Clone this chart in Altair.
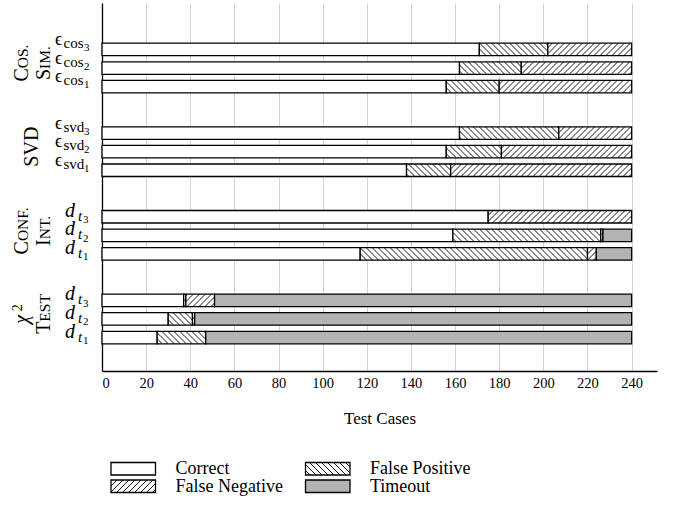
import altair as alt
import pandas as pd
import math

# ---------------- data (bottom bar first) ----------------
bar_main = ["d", "d", "d", "d", "d", "d", "ϵ", "ϵ", "ϵ", "ϵ", "ϵ", "ϵ"]
bar_sub = ["t", "t", "t", "t", "t", "t", "svd", "svd", "svd", "cos", "cos", "cos"]
bar_subsub = ["1", "2", "3", "1", "2", "3", "1", "2", "3", "1", "2", "3"]
bar_group = [0, 0, 0, 1, 1, 1, 2, 2, 2, 3, 3, 3]

correct = [25, 30, 37, 117, 159, 175, 138, 156, 162, 156, 162, 171]
false_pos = [22, 11, 1, 103, 67, 0, 20, 25, 45, 24, 28, 31]
false_neg = [0, 1, 13, 4, 1, 65, 82, 59, 33, 60, 50, 38]
timeout = [193, 198, 189, 16, 13, 0, 0, 0, 0, 0, 0, 0]

categories = ["Correct", "False Positive", "False Negative", "Timeout"]
cat_fill = ["#ffffff", "#ffffff", "#ffffff", "#b3b3b3"]
cat_hatch = [None, "nw", "ne", None]

x_ticks = list(range(0, 241, 20))

# group labels: list of (text piece, font size, line index, italic)
group_pieces = [
    [("χ", 20, 0, True), ("2", 14, 0, False), ("T", 20, 1, False), ("EST", 15.5, 1, False)],
    [("C", 20, 0, False), ("ONF.", 15.5, 0, False), ("I", 20, 1, False), ("NT.", 15.5, 1, False)],
    [("SVD", 20, 0, False)],
    [("C", 20, 0, False), ("OS.", 15.5, 0, False), ("S", 20, 1, False), ("IM.", 15.5, 1, False)],
]

# ---------------- layout ----------------
FONT = "Liberation Serif"
W, H = 555, 368
XMAX = 251.5
YMIN, YMAX = -1.8, 18.0
sx = W / XMAX
sy = H / (YMAX - YMIN)
BAR_PX = 12.5
half = BAR_PX / 2 / sy
HATCH_SP = 6.0

TIMES_W = {"C": .667, "O": .722, "S": .556, ".": .25, "I": .333, "M": .889,
           "N": .722, "F": .556, "T": .611, "E": .611, "V": .722, "D": .722,
           "χ": .62, "2": .5}


def text_w(s, size):
    return sum(TIMES_W.get(c, .5) for c in s) * size


ypos = [g * 4.5 + (i % 3) for i, g in enumerate(bar_group)]


def hatch(u0, u1, v0, v1, kind, sp):
    out = []
    if kind == "nw":  # u + v = c
        k0 = math.floor((u0 + v0) / sp)
        k1 = math.ceil((u1 + v1) / sp)
        for k in range(k0, k1 + 1):
            c = k * sp
            a = max(u0, c - v1)
            b = min(u1, c - v0)
            if b - a > 0.3:
                out.append((a, c - a, b, c - b))
    else:  # u - v = c
        k0 = math.floor((u0 - v1) / sp)
        k1 = math.ceil((u1 - v0) / sp)
        for k in range(k0, k1 + 1):
            c = k * sp
            a = max(u0, c + v0)
            b = min(u1, c + v1)
            if b - a > 0.3:
                out.append((a, a - c, b, b - c))
    return out


seg_rows, hatch_rows = [], []
for i in range(len(correct)):
    vals = [correct[i], false_pos[i], false_neg[i], timeout[i]]
    start = 0
    for ci, v in enumerate(vals):
        if v <= 0:
            continue
        x0, x1 = start, start + v
        yb, yt = ypos[i] - half, ypos[i] + half
        seg_rows.append(dict(cat=categories[ci], x0=x0, x1=x1, yb=yb, yt=yt))
        if cat_hatch[ci]:
            for (ua, va, ub, vb) in hatch(x0 * sx, x1 * sx, yb * sy, yt * sy, cat_hatch[ci], HATCH_SP):
                hatch_rows.append(dict(x=ua / sx, y=va / sy, x2=ub / sx, y2=vb / sy))
        start = x1

segs = pd.DataFrame(seg_rows)
hatches = pd.DataFrame(hatch_rows)

# tick labels beside bars (baseline offsets in px, downward positive)
lab_rows = []
for i in range(len(correct)):
    is_eps = bar_main[i] == "ϵ"
    if is_eps:
        parts = [(bar_main[i], -47, -4.5, 18, False),
                 (bar_sub[i], -38.5, -1.5, 15, False),
                 (bar_subsub[i], -18, 1.8, 11, False)]
    else:
        parts = [(bar_main[i], -37, 0, 20, True),
                 (bar_sub[i], -24, 4, 15, True),
                 (bar_subsub[i], -19, 6.5, 11, False)]
    for (t, px, dy, size, it) in parts:
        lab_rows.append(dict(t=t, px=px, y=ypos[i] - dy / sy, size=size, it=it))
labs = pd.DataFrame(lab_rows)

# rotated group labels
line_x = {2: [-74, -52], 1: [-64]}
grow = []
for g, pieces in enumerate(group_pieces):
    center = g * 4.5 + 1
    nlines = max(p[2] for p in pieces) + 1
    for ln in range(nlines):
        lp = [p for p in pieces if p[2] == ln]
        total = sum(text_w(p[0], p[1]) for p in lp)
        off = -total / 2 + 5
        for (t, size, _, it) in lp:
            grow.append(dict(t=t, px=line_x[nlines][ln], y=center + off / sy, size=size, it=it))
            off += text_w(t, size)
glabs = pd.DataFrame(grow)
# χ superscript sits a little further out
glabs.loc[(glabs.t == "2"), "px"] = -80

# legend (pixel positions relative to plot origin)
leg_rows, leg_hatch = [], []
for k, cat in enumerate(categories):
    col, row = [(0, 0), (1, 0), (0, 1), (1, 1)][k]
    bx0 = 9 + col * 194.5
    by0 = 459.5 + row * 17.5
    leg_rows.append(dict(cat=cat, x0=bx0, x1=bx0 + 44.5, y0=by0, y1=by0 + 12.5,
                         tx=bx0 + 64.5, ty=by0 + 6.5, fill=cat_fill[k]))
    if cat_hatch[k]:
        for (ua, va, ub, vb) in hatch(bx0, bx0 + 44.5, -(by0 + 12.5), -by0, cat_hatch[k], HATCH_SP):
            leg_hatch.append(dict(x=ua, y=-va, x2=ub, y2=-vb))
legend = pd.DataFrame(leg_rows)
leg_h = pd.DataFrame(leg_hatch)

# ---------------- chart ----------------
xscale = alt.Scale(domain=[0, XMAX], nice=False, zero=False)
yscale = alt.Scale(domain=[YMIN, YMAX], nice=False, zero=False)
x_axis = alt.Axis(values=x_ticks, grid=True, ticks=False, title="Test Cases",
                  labelFont=FONT, titleFont=FONT, labelFontSize=14.5, titleFontSize=17)
y_axis = alt.Axis(labels=False, ticks=False, grid=False, title=None)

bars = alt.Chart(segs).mark_rect(stroke="black", strokeWidth=1.3).encode(
    x=alt.X("x0:Q", scale=xscale, axis=x_axis),
    x2="x1:Q",
    y=alt.Y("yb:Q", scale=yscale, axis=y_axis),
    y2="yt:Q",
    fill=alt.Fill("cat:N", scale=alt.Scale(domain=categories, range=cat_fill), legend=None),
)

hatch_layer = alt.Chart(hatches).mark_rule(color="black", strokeWidth=0.9).encode(
    x=alt.X("x:Q", scale=xscale, axis=x_axis), x2="x2:Q",
    y=alt.Y("y:Q", scale=yscale, axis=y_axis), y2="y2:Q",
)


def label_layer(df, italic, angle=0):
    kw = dict(font=FONT, align="left", baseline="alphabetic", color="black")
    if italic:
        kw["fontStyle"] = "italic"
    if angle:
        kw["angle"] = angle
    return alt.Chart(df).mark_text(**kw).encode(
        x=alt.X("px:Q", scale=None),
        y=alt.Y("y:Q", scale=yscale, axis=y_axis),
        text="t:N",
        size=alt.Size("size:Q", scale=None),
    )


lab_up = label_layer(labs[~labs.it], False)
lab_it = label_layer(labs[labs.it], True)
g_up = label_layer(glabs[~glabs.it], False, 270)
g_it = label_layer(glabs[glabs.it], True, 270)

leg_box = alt.Chart(legend).mark_rect(stroke="black", strokeWidth=1.3).encode(
    x=alt.X("x0:Q", scale=None), x2="x1:Q",
    y=alt.Y("y0:Q", scale=None), y2="y1:Q",
    fill=alt.Fill("fill:N", scale=None),
)
leg_hl = alt.Chart(leg_h).mark_rule(color="black", strokeWidth=0.9).encode(
    x=alt.X("x:Q", scale=None), x2="x2:Q",
    y=alt.Y("y:Q", scale=None), y2="y2:Q",
)
leg_txt = alt.Chart(legend).mark_text(font=FONT, fontSize=18, align="left",
                                      baseline="middle", color="black").encode(
    x=alt.X("tx:Q", scale=None),
    y=alt.Y("ty:Q", scale=None),
    text="cat:N",
)

chart = alt.layer(bars, hatch_layer, lab_up, lab_it, g_up, g_it, leg_box, leg_hl, leg_txt).properties(
    width=W, height=H,
    autosize=alt.AutoSizeParams(type="none"),
    padding={"left": 102, "top": 3, "right": 19, "bottom": 141},
    background="white",
).configure(font=FONT).configure_view(stroke=None).configure_axis(
    gridColor="#d4d4d4", gridWidth=1,
    domainColor="black", domainWidth=1.3,
    labelFont=FONT, labelFontSize=14.5, labelColor="black", labelPadding=5,
    titleFont=FONT, titleFontSize=17, titleFontWeight="normal", titleColor="black",
    titlePadding=21,
)

chart.save("out.html", embed_options={"renderer": "svg", "actions": False})
